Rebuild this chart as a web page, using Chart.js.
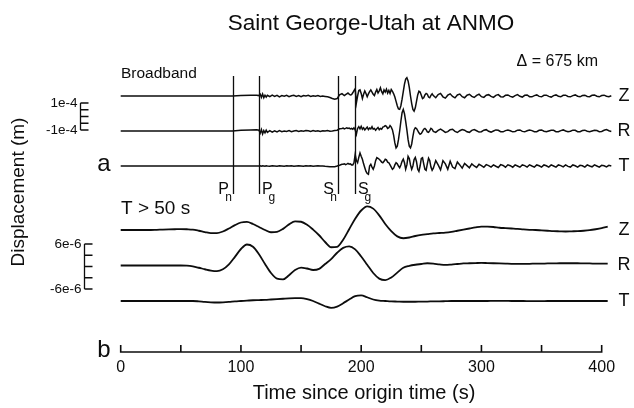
<!DOCTYPE html>
<html><head><meta charset="utf-8">
<script src="https://cdn.jsdelivr.net/npm/chart.js@4"></script>
<style>html,body{margin:0;padding:0;background:#fff}</style>
</head><body>
<canvas id="c" width="634" height="408"></canvas>
<script>
// ---------- DATA ----------
const title = 'Saint George-Utah at ANMO';
const distanceLabel = '\u0394 = 675 km';
const xTickValues = [0, 50, 100, 150, 200, 250, 300, 350, 400];
const xAxisTitle = 'Time since origin time (s)';
const yAxisTitle = 'Displacement (m)';
const components = ['Z', 'R', 'T'];
const phaseTimes = [93, 115.3, 180.5, 194.8];
const phaseNames = ['P', 'P', 'S', 'S'];
const phaseSubs = ['n', 'g', 'n', 'g'];
const bbScaleLabels = ['1e-4', '-1e-4'];
const bbScaleMicrons = 100;     // 1e-4 m
const lpScaleLabels = ['6e-6', '-6e-6'];
const lpScaleMicrons = 6;       // 6e-6 m

// broadband sample times (s)
const bbTime = [0,40,80,93,100,108,113,
115,116,117,118,119,120,121,122,
124,126,128,130,132,134,136,138,140,142,144,146,148,150,152,154,156,158,160,162,164,166,168,170,172,174,176,178,180,182,184,
185,186,187,188,189,190,191,192,193,194,195,196,197,198,199,200,201,202,203,204,205,206,207,208,209,210,
211,212,213,214,215,216,217,218,219,220,221,222,223,224,225,226,227,228,229,230,231,232,233,234,235,236,
237,238,239,240,241,242,243,244,245,246,247,248,249,250,251,252,253,254,255,256,257,258,259,260,
262,264,266,268,270,272,274,276,278,280,282,284,286,288,290,292,294,296,298,300,302,304,306,308,310,312,
314,316,318,320,322,324,326,328,330,332,334,336,338,340,342,344,346,348,350,352,354,356,358,360,362,364,
366,368,370,372,374,376,378,380,382,384,386,388,390,392,394,396,398,400,402,404,406,408];

// broadband displacement, micrometres
const bbZ = [0,0,0,0,3,5,5,
3,13,-10,14,-13,6,-8,5,
-5,6,-3,5,-6,3,-2,5,-5,2,5,-3,3,-5,3,0,5,-3,2,-2,3,-3,0,-3,-6,-11,-18,-24,-19,8,18,
10,3,10,16,22,13,8,10,24,40,54,-51,0,40,45,19,-19,13,37,19,-5,16,32,45,29,13,
3,29,48,22,38,61,32,16,45,29,51,22,42,19,48,35,16,-8,-40,-72,-96,-99,-72,-24,32,88,
125,136,112,64,0,-56,-99,-112,-88,-40,8,35,29,5,-19,-13,8,19,13,-8,-13,5,16,3,
-13,10,19,-6,-16,6,16,-3,-14,8,14,-5,-13,6,13,-3,-11,5,13,-5,-10,6,10,-3,-10,5,
10,-5,-8,5,8,-3,-8,3,10,-2,-8,5,8,-5,-6,3,8,-3,-6,5,6,-3,-8,3,8,-2,
-6,5,6,-3,-6,3,8,-2,-6,3,6,-3,-5,5,8,-2,-6,3,6,-2,-5,2];
const bbR = [0,0,0,0,5,8,10,
6,-16,10,-22,3,-13,6,-10,
3,-8,2,-6,3,-5,0,-3,3,-5,0,3,-3,2,-2,3,2,-3,3,-2,2,-3,2,0,3,-2,0,3,6,16,19,
22,16,19,24,19,22,16,19,13,24,8,-24,19,32,16,35,13,24,8,19,29,10,22,16,32,13,
19,6,16,26,10,19,13,29,32,40,35,19,24,40,29,8,-32,-88,-125,-112,-64,0,72,136,160,128,
72,8,-64,-112,-125,-96,-40,8,24,19,3,-13,-24,-19,-3,13,19,10,-6,-10,3,19,13,-3,
-10,5,14,3,-10,-5,10,13,-3,-11,2,11,6,-6,-10,5,11,2,-8,-5,6,10,-2,-8,0,8,
5,-5,-6,3,8,2,-6,-3,6,8,-3,-6,2,8,3,-5,-5,5,8,-2,-6,0,6,5,-5,-5,
3,8,0,-6,-2,6,5,-5,-5,3,6,-2,-6,0,6,3,-5,-3,5,10,2,-3];
const bbT = [0,0,0,0,0,0,0,
0,2,-2,2,0,-2,2,0,
-2,2,0,-2,2,0,-2,2,0,2,-2,0,2,0,-2,2,0,2,-2,0,2,0,0,-2,-3,-5,-6,-5,0,6,13,
13,16,10,14,19,13,16,8,8,24,86,40,24,64,96,72,50,16,-13,-40,-56,-61,0,13,-8,-24,
0,40,62,56,50,40,29,24,35,50,45,29,24,8,-8,-24,-16,8,24,16,0,-13,8,35,51,24,
-24,8,72,56,8,-24,0,48,64,32,-24,-40,0,56,61,16,-24,-32,16,58,40,-8,-32,-16,
40,8,-29,40,16,-24,35,-8,-19,29,8,-16,19,3,-13,16,0,-11,13,3,-10,10,3,-8,8,-2,
-11,10,4,-9,9,2,-9,8,0,-9,8,3,-8,9,0,-8,8,2,-8,8,2,-8,8,0,-8,8,
3,-6,8,-3,-8,8,2,-8,5,2,-8,8,0,-6,8,0,-8,5,2,-6,5,0];

// long-period (T > 50 s) sample times (s)
const lpTime = [0,5,10,15,20,25,30,35,40,45,50,55,60,65,70,75,80,85,90,95,
100,105,110,115,120,125,130,135,140,145,150,155,160,165,170,175,180,185,190,195,
200,205,210,215,220,225,230,235,240,245,250,255,260,265,270,275,280,285,290,295,
300,305,310,315,320,325,330,335,340,345,350,355,360,365,370,375,380,385,390,395,400,405];
// long-period displacement, micrometres
const lpZ = [0,0,0,0,0,0,0.05,0.1,0.15,0.2,0.25,0.2,0.1,-0.2,-0.55,-0.85,-0.85,-0.4,0.4,1.3,
2.0,2.15,1.6,0.8,0,-0.6,-0.5,0.3,1.5,2.3,2.2,1.4,0.1,-1.4,-3.2,-4.6,-4.5,-2.6,0.2,3.0,
5.2,6.3,5.7,3.9,1.6,-0.3,-1.7,-2.2,-2.0,-1.6,-1.3,-1.1,-0.9,-0.8,-0.7,-0.5,-0.2,0.1,0.4,0.7,
0.9,0.9,0.8,0.6,0.5,0.4,0.3,0.15,0.05,0,-0.1,-0.2,-0.3,-0.35,-0.4,-0.35,-0.3,-0.2,-0.05,0.2,0.5,0.9];
const lpR = [0,0,0,0,0,0,0,0,0,0,0,-0.05,-0.25,-0.6,-1.0,-1.35,-1.5,-1.0,0.3,2.3,
4.4,5.6,5.0,3.0,0.4,-2.0,-3.5,-3.7,-2.6,-1.2,-0.55,-0.8,-1.2,-0.9,0.4,1.7,3.4,4.7,5.1,4.3,
2.4,0.2,-2.0,-3.5,-3.9,-3.2,-1.9,-0.6,-0.1,0.2,0.4,0.6,0.5,0.3,0.15,0.25,0.4,0.55,0.6,0.65,
0.7,0.65,0.6,0.55,0.5,0.45,0.45,0.45,0.45,0.5,0.5,0.55,0.55,0.6,0.6,0.6,0.6,0.55,0.55,0.5,0.5,0.5];
const lpT = [0,0,0,0,0,0,0,0,0,0,0,0,0,-0.1,-0.25,-0.35,-0.4,-0.35,-0.25,-0.1,
0,0.1,0.2,0.25,0.3,0.4,0.5,0.6,0.7,0.75,0.75,0.5,0,-0.7,-1.4,-1.85,-1.5,-0.6,0.4,1.3,
1.5,1.0,0.4,0.1,0,-0.1,-0.15,-0.2,-0.2,-0.2,-0.15,-0.15,-0.1,-0.1,-0.05,0,0,0,0,0,
0,0,0.05,0.05,0.05,0,0,0,-0.05,-0.05,-0.05,0,0,0,0,0,0,0,0,0,0,0];

// ---------- LAYOUT / STYLE ----------
const FONT = '"Liberation Sans", Arial, Helvetica, sans-serif';
const INK = '#0d0d0d';
const BB_BASE = [96, 131, 166];       // baselines (y-scale units = px from top)
const LP_BASE = [230, 265.5, 301];
const BB_GAIN = 0.135;                // px per micrometre
const LP_GAIN = 3.75;
const BB_BAR_CENTER = 116.5;
const LP_BAR_CENTER = 266.5;

function trace(time, vals, base, gain, width, smooth) {
  return {
    data: time.map((t, i) => ({x: t, y: base - vals[i] * gain})),
    borderColor: INK, borderWidth: width, pointRadius: 0, fill: false,
    tension: 0, cubicInterpolationMode: smooth ? 'monotone' : 'default', clip: false
  };
}
const datasets = [
  trace(bbTime, bbZ, BB_BASE[0], BB_GAIN, 1.5, false),
  trace(bbTime, bbR, BB_BASE[1], BB_GAIN, 1.5, false),
  trace(bbTime, bbT, BB_BASE[2], BB_GAIN, 1.5, false),
  trace(lpTime, lpZ, LP_BASE[0], LP_GAIN, 1.8, true),
  trace(lpTime, lpR, LP_BASE[1], LP_GAIN, 1.8, true),
  trace(lpTime, lpT, LP_BASE[2], LP_GAIN, 1.8, true)
];

const annot = {
  id: 'annot',
  beforeDraw(chart) {
    const c = chart.ctx; c.save(); c.fillStyle = '#fff';
    c.fillRect(0, 0, chart.width, chart.height); c.restore();
  },
  afterDraw(chart) {
    const c = chart.ctx, xs = chart.scales.x, ys = chart.scales.y;
    const axisY = chart.chartArea.bottom;
    c.save();
    c.strokeStyle = INK; c.fillStyle = INK; c.lineCap = 'butt';
    // x axis line and ticks (upward)
    c.lineWidth = 1.6;
    c.beginPath();
    c.moveTo(xs.getPixelForValue(xTickValues[0]), axisY);
    c.lineTo(xs.getPixelForValue(xTickValues[xTickValues.length - 1]), axisY);
    xTickValues.forEach(v => { const px = xs.getPixelForValue(v); c.moveTo(px, axisY + 0.8); c.lineTo(px, axisY - 7); });
    c.stroke();
    // phase lines
    c.lineWidth = 1.3;
    phaseTimes.forEach((t, i) => {
      const px = Math.round(xs.getPixelForValue(t)) + 0.5;
      c.beginPath(); c.moveTo(px, ys.getPixelForValue(76)); c.lineTo(px, ys.getPixelForValue(194)); c.stroke();
      c.textBaseline = 'alphabetic';
      c.font = '16px ' + FONT;
      const mainW = c.measureText(phaseNames[i]).width;
      c.font = '12px ' + FONT;
      const subW = c.measureText(phaseSubs[i]).width;
      const left = phaseSubs[i] === 'n';
      const mx = left ? px - 4.5 - mainW : px + 2.5;
      const sx = left ? px - 1.5 - subW : px + 9;
      c.font = '16px ' + FONT; c.textAlign = 'left';
      c.fillText(phaseNames[i], mx, ys.getPixelForValue(194));
      c.font = '12px ' + FONT;
      c.fillText(phaseSubs[i], sx, ys.getPixelForValue(201));
    });
    // scale bars
    function bracket(center, gain, microns, x0, labels) {
      const top = ys.getPixelForValue(center - microns * gain);
      const bot = ys.getPixelForValue(center + microns * gain);
      c.lineWidth = 1.3;
      c.beginPath(); c.moveTo(x0, top); c.lineTo(x0, bot);
      for (let k = 0; k <= 4; k++) { const y = top + (bot - top) * k / 4; c.moveTo(x0, y); c.lineTo(x0 + 8, y); }
      c.stroke();
      c.font = '13.5px ' + FONT; c.textAlign = 'right'; c.textBaseline = 'middle';
      c.fillText(labels[0], x0 - 3, top);
      c.fillText(labels[1], x0 - 3, bot);
    }
    bracket(BB_BAR_CENTER, BB_GAIN, bbScaleMicrons, 80.5, bbScaleLabels);
    bracket(LP_BAR_CENTER, LP_GAIN, lpScaleMicrons, 84.5, lpScaleLabels);
    // component labels
    c.font = '18px ' + FONT; c.textAlign = 'center'; c.textBaseline = 'middle';
    components.forEach((k, i) => {
      c.fillText(k, 624, ys.getPixelForValue(BB_BASE[i]));
      c.fillText(k, 624, ys.getPixelForValue(LP_BASE[i]));
    });
    // titles and labels
    c.textBaseline = 'alphabetic';
    c.font = '22.5px ' + FONT; c.textAlign = 'center';
    c.fillText(title, 371, 30);
    c.font = '16px ' + FONT; c.textAlign = 'right';
    c.fillText(distanceLabel, 598, 66);
    c.font = '15.5px ' + FONT; c.textAlign = 'left';
    c.fillText('Broadband', 121, 78);
    c.font = '19px ' + FONT;
    c.fillText('T > 50 s', 121, 214);
    c.font = '24px ' + FONT; c.textAlign = 'center';
    c.fillText('a', 104, 171);
    c.fillText('b', 104, 357);
    c.font = '20px ' + FONT;
    c.fillText(xAxisTitle, 364, 399);
    c.save(); c.translate(19, 192); c.rotate(-Math.PI / 2);
    c.font = '19px ' + FONT;
    c.textBaseline = 'middle'; c.fillText(yAxisTitle, 0, 0); c.restore();
    c.restore();
  }
};

new Chart(document.getElementById('c'), {
  type: 'line',
  data: {datasets},
  plugins: [annot],
  options: {
    responsive: false, animation: false, devicePixelRatio: 1,
    layout: {padding: {left: 120.7, right: 22.7, top: 0, bottom: 24.8}},
    plugins: {legend: {display: false}, title: {display: false}, tooltip: {enabled: false}},
    elements: {point: {radius: 0}},
    scales: {
      x: {
        type: 'linear', min: 0, max: 408,
        grid: {display: false, drawTicks: false}, border: {display: false},
        afterBuildTicks: s => { s.ticks = xTickValues.map(v => ({value: v})); },
        ticks: {autoSkip: false, maxRotation: 0, padding: 6, color: INK,
          font: {family: FONT, size: 16}, callback: v => (v % 100 === 0 ? String(v) : '')}
      },
      y: {display: false, reverse: true, min: 0, max: 352}
    }
  }
});
</script>
</body></html>
